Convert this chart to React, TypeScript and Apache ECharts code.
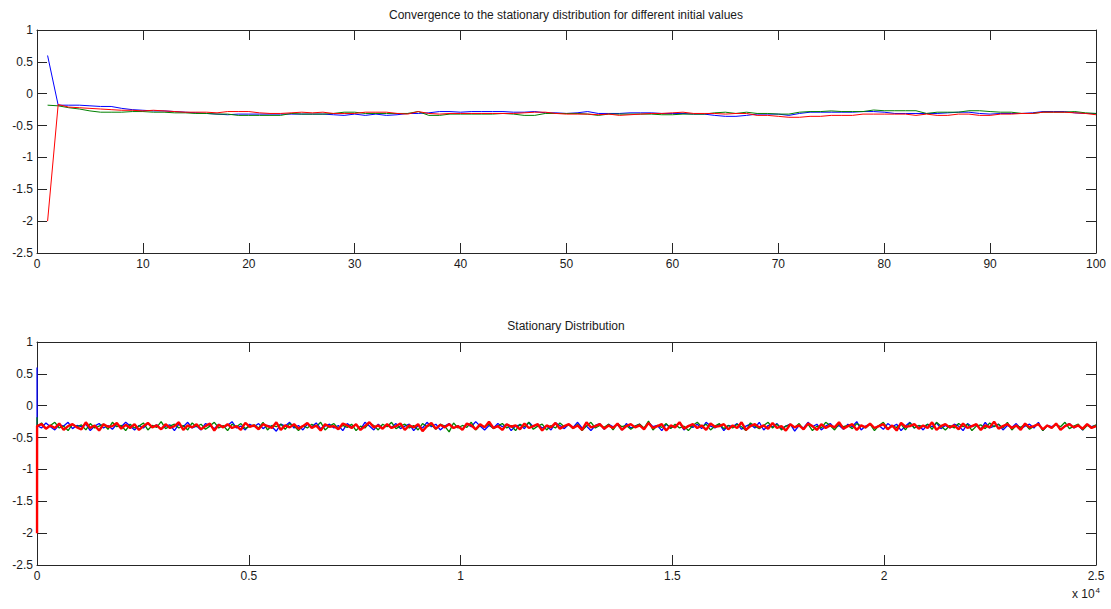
import React, { useEffect, useRef } from "react";
import * as echarts from "echarts";

// ---------- Top chart: first 100 iterations ----------
const topBlue = [
  0.6, -0.18, -0.18, -0.18, -0.19, -0.2, -0.2, -0.23, -0.25, -0.26,
  -0.27, -0.27, -0.28, -0.29, -0.3, -0.31, -0.32, -0.33, -0.32, -0.32,
  -0.32, -0.32, -0.32, -0.32, -0.32, -0.32, -0.32, -0.33, -0.34, -0.32,
  -0.34, -0.32, -0.34, -0.33, -0.31, -0.31, -0.3, -0.28, -0.28, -0.29,
  -0.28, -0.28, -0.28, -0.28, -0.29, -0.29, -0.28, -0.3, -0.3, -0.31,
  -0.3, -0.28, -0.31, -0.31, -0.31, -0.3, -0.3, -0.3, -0.31, -0.31,
  -0.31, -0.32, -0.32, -0.34, -0.355, -0.355, -0.34, -0.32, -0.32, -0.32,
  -0.34, -0.31, -0.29, -0.29, -0.29, -0.29, -0.29, -0.28, -0.28, -0.29,
  -0.31, -0.31, -0.31, -0.31, -0.31, -0.3, -0.29, -0.29, -0.31, -0.32,
  -0.31, -0.31, -0.31, -0.3, -0.28, -0.28, -0.28, -0.3, -0.31, -0.31,
];
const topGreen = [
  -0.18, -0.19, -0.22, -0.24, -0.27, -0.29, -0.29, -0.29, -0.28, -0.28,
  -0.29, -0.29, -0.3, -0.3, -0.31, -0.31, -0.32, -0.32, -0.34, -0.34,
  -0.34, -0.34, -0.34, -0.31, -0.32, -0.32, -0.32, -0.31, -0.29, -0.29,
  -0.31, -0.31, -0.31, -0.31, -0.31, -0.28, -0.34, -0.34, -0.32, -0.32,
  -0.32, -0.32, -0.32, -0.31, -0.32, -0.34, -0.34, -0.31, -0.31, -0.31,
  -0.31, -0.32, -0.34, -0.32, -0.32, -0.32, -0.32, -0.32, -0.33, -0.33,
  -0.32, -0.32, -0.32, -0.3, -0.29, -0.31, -0.29, -0.31, -0.31, -0.32,
  -0.32, -0.29, -0.28, -0.28, -0.27, -0.28, -0.28, -0.28, -0.256, -0.267,
  -0.267, -0.267, -0.267, -0.31, -0.29, -0.29, -0.29, -0.267, -0.267, -0.28,
  -0.29, -0.29, -0.31, -0.31, -0.29, -0.29, -0.29, -0.28, -0.3, -0.31,
];
const topRed = [
  -2.0, -0.17, -0.21, -0.22, -0.23, -0.24, -0.25, -0.26, -0.26, -0.27,
  -0.26, -0.27, -0.28, -0.29, -0.29, -0.29, -0.3, -0.28, -0.28, -0.28,
  -0.3, -0.31, -0.31, -0.3, -0.29, -0.3, -0.29, -0.31, -0.31, -0.31,
  -0.29, -0.29, -0.29, -0.31, -0.32, -0.28, -0.31, -0.32, -0.31, -0.31,
  -0.31, -0.31, -0.31, -0.31, -0.31, -0.3, -0.29, -0.29, -0.31, -0.32,
  -0.32, -0.32, -0.33, -0.32, -0.34, -0.33, -0.32, -0.31, -0.31, -0.3,
  -0.29, -0.31, -0.31, -0.31, -0.32, -0.31, -0.31, -0.34, -0.34, -0.355,
  -0.37, -0.37, -0.355, -0.355, -0.34, -0.34, -0.34, -0.32, -0.32, -0.32,
  -0.32, -0.32, -0.34, -0.32, -0.34, -0.34, -0.32, -0.32, -0.34, -0.34,
  -0.32, -0.32, -0.31, -0.31, -0.29, -0.29, -0.29, -0.3, -0.31, -0.33,
];

// ---------- Bottom chart: 25000 iterations (sampled) ----------
const totalIterations = 25000;
const bottomBlue = [
  0.6,
  -.31,-.35,-.27,-.33,-.38,-.30,-.32,-.26,-.36,-.31,
  -.33,-.29,-.39,-.32,-.28,-.35,-.31,-.37,-.29,-.33,
  -.26,-.32,-.38,-.31,-.35,-.28,-.33,-.30,-.37,-.32,
  -.30,-.39,-.29,-.33,-.26,-.35,-.32,-.38,-.28,-.31,
  -.36,-.29,-.34,-.31,-.25,-.35,-.32,-.38,-.29,-.33,
  -.28,-.36,-.31,-.33,-.40,-.29,-.32,-.26,-.35,-.31,
  -.38,-.29,-.33,-.27,-.36,-.32,-.29,-.35,-.31,-.39,
  -.28,-.33,-.30,-.37,-.26,-.32,-.38,-.29,-.35,-.31,
  -.34,-.28,-.36,-.32,-.29,-.39,-.31,-.35,-.26,-.33,
  -.29,-.38,-.32,-.28,-.35,-.31,-.37,-.29,-.33,-.25,
  -.32,-.38,-.31,-.35,-.28,-.33,-.29,-.39,-.32,-.30,
  -.36,-.26,-.33,-.29,-.35,-.32,-.38,-.27,-.31,-.36,
  -.29,-.34,-.26,-.35,-.32,-.39,-.31,-.28,-.37,-.29,
  -.33,-.30,-.38,-.28,-.35,-.32,-.29,-.36,-.26,-.33,
  -.31,-.39,-.29,-.35,-.32,-.27,-.38,-.31,-.34,-.29,
  -.36,-.26,-.32,-.35,-.29,-.39,-.31,-.33,-.28,-.37,
  -.32,-.29,-.35,-.26,-.38,-.31,-.33,-.28,-.36,-.32,
  -.29,-.40,-.31,-.35,-.26,-.33,-.29,-.38,-.32,-.28,
  -.35,-.31,-.37,-.29,-.33,-.25,-.38,-.32,-.29,-.35,
  -.31,-.37,-.28,-.33,-.29,-.39,-.32,-.26,-.35,-.31,
  -.38,-.29,-.33,-.27,-.36,-.31,-.35,-.29,-.32,-.39,
  -.28,-.33,-.30,-.37,-.26,-.35,-.32,-.29,-.38,-.31,
  -.34,-.28,-.36,-.32,-.29,-.35,-.26,-.39,-.31,-.33,
  -.29,-.37,-.32,-.28,-.35,-.31,-.38,-.29,-.33,-.31,
];
const bottomGreen = [
  -0.18,
  -.33,-.27,-.36,-.31,-.26,-.35,-.32,-.39,-.29,-.33,
  -.30,-.38,-.28,-.35,-.32,-.29,-.37,-.26,-.33,-.31,
  -.39,-.29,-.35,-.32,-.27,-.38,-.31,-.34,-.25,-.36,
  -.32,-.29,-.35,-.31,-.38,-.27,-.33,-.29,-.37,-.32,
  -.26,-.35,-.31,-.39,-.29,-.33,-.28,-.36,-.32,-.30,
  -.35,-.26,-.38,-.31,-.33,-.29,-.37,-.28,-.32,-.39,
  -.31,-.35,-.29,-.33,-.26,-.38,-.32,-.28,-.36,-.31,
  -.34,-.29,-.39,-.32,-.35,-.27,-.31,-.38,-.29,-.33,
  -.26,-.36,-.32,-.29,-.35,-.31,-.38,-.28,-.33,-.30,
  -.37,-.29,-.32,-.41,-.27,-.35,-.31,-.34,-.26,-.38,
  -.31,-.33,-.29,-.36,-.32,-.28,-.35,-.31,-.39,-.29,
  -.33,-.26,-.37,-.32,-.29,-.38,-.31,-.35,-.27,-.33,
  -.30,-.36,-.29,-.39,-.32,-.26,-.35,-.31,-.34,-.29,
  -.38,-.28,-.33,-.31,-.37,-.32,-.29,-.35,-.24,-.38,
  -.31,-.34,-.28,-.36,-.29,-.35,-.32,-.39,-.31,-.26,
  -.33,-.29,-.38,-.32,-.28,-.36,-.31,-.35,-.29,-.33,
  -.39,-.27,-.32,-.36,-.31,-.26,-.35,-.29,-.38,-.32,
  -.30,-.34,-.28,-.37,-.29,-.39,-.32,-.35,-.26,-.31,
  -.38,-.29,-.33,-.31,-.36,-.28,-.32,-.35,-.29,-.39,
  -.31,-.26,-.36,-.32,-.34,-.29,-.38,-.27,-.35,-.31,
  -.33,-.29,-.37,-.26,-.32,-.38,-.31,-.35,-.28,-.33,
  -.29,-.39,-.32,-.30,-.36,-.27,-.33,-.29,-.35,-.26,
  -.38,-.31,-.34,-.29,-.37,-.32,-.28,-.39,-.31,-.35,
  -.29,-.33,-.26,-.36,-.32,-.29,-.38,-.31,-.34,-.30,
];
const bottomRed = [
  -2.0,
  -.32,-.29,-.36,-.31,-.35,-.28,-.38,-.32,-.29,-.34,
  -.37,-.26,-.35,-.31,-.39,-.29,-.33,-.32,-.27,-.36,
  -.30,-.35,-.29,-.38,-.32,-.27,-.34,-.31,-.37,-.29,
  -.35,-.32,-.26,-.38,-.31,-.34,-.29,-.37,-.32,-.28,
  -.39,-.30,-.34,-.29,-.35,-.32,-.38,-.27,-.33,-.31,
  -.37,-.29,-.32,-.35,-.26,-.38,-.31,-.34,-.29,-.36,
  -.32,-.27,-.35,-.31,-.39,-.29,-.33,-.32,-.37,-.28,
  -.31,-.35,-.29,-.38,-.32,-.26,-.34,-.31,-.36,-.29,
  -.35,-.32,-.28,-.38,-.31,-.34,-.29,-.40,-.32,-.27,
  -.36,-.30,-.34,-.29,-.35,-.32,-.38,-.28,-.31,-.37,
  -.29,-.34,-.25,-.35,-.32,-.38,-.29,-.33,-.31,-.37,
  -.28,-.35,-.32,-.29,-.39,-.31,-.34,-.27,-.36,-.32,
  -.29,-.35,-.31,-.38,-.26,-.34,-.32,-.29,-.36,-.31,
  -.35,-.28,-.38,-.32,-.29,-.34,-.31,-.37,-.27,-.35,
  -.32,-.29,-.39,-.31,-.34,-.26,-.36,-.32,-.29,-.35,
  -.31,-.38,-.28,-.33,-.32,-.29,-.37,-.31,-.35,-.26,
  -.38,-.32,-.29,-.34,-.31,-.36,-.27,-.35,-.32,-.39,
  -.29,-.34,-.31,-.37,-.28,-.32,-.38,-.29,-.35,-.31,
  -.34,-.26,-.36,-.32,-.29,-.38,-.31,-.34,-.28,-.35,
  -.32,-.29,-.37,-.31,-.39,-.27,-.33,-.32,-.29,-.36,
  -.31,-.35,-.26,-.38,-.32,-.29,-.34,-.31,-.37,-.28,
  -.35,-.32,-.29,-.38,-.31,-.34,-.25,-.36,-.32,-.29,
  -.35,-.31,-.38,-.28,-.34,-.32,-.29,-.37,-.31,-.35,
  -.28,-.38,-.32,-.29,-.34,-.31,-.36,-.29,-.35,-.32,
];

const topTitle = "Convergence to the stationary distribution for different initial values";
const bottomTitle = "Stationary Distribution";

const FONT = "'Liberation Sans', Arial, sans-serif";
const AXIS = "#262626";
const BLUE = "#0000ff";
const GREEN = "#008000";
const RED = "#ff0000";

function topPairs(arr: number[]) {
  return arr.map((v, i) => [i + 1, v]);
}
// first sample at iteration 1, second at 2, remaining samples spread up to 25000
function bottomPairs(arr: number[]) {
  const n = arr.length;
  return arr.map((v, i) => [i === 0 ? 1 : 2 + ((i - 1) * (totalIterations - 2)) / (n - 2), v]);
}

function makeX(grid: number, max: number, interval: number, top: boolean, fmt?: (v: number) => string) {
  return {
    type: "value",
    gridIndex: grid,
    position: top ? "top" : "bottom",
    min: 0,
    max,
    interval,
    splitLine: { show: false },
    axisLine: { show: true, onZero: false, lineStyle: { color: AXIS, width: 1 } },
    axisTick: { show: true, inside: true, length: 10, lineStyle: { color: AXIS } },
    axisLabel: {
      show: !top,
      color: "#1a1a1a",
      fontFamily: FONT,
      fontSize: 12,
      margin: 5,
      formatter: fmt,
    },
  };
}
function makeY(grid: number, right: boolean) {
  return {
    type: "value",
    gridIndex: grid,
    position: right ? "right" : "left",
    min: -2.5,
    max: 1,
    interval: 0.5,
    splitLine: { show: false },
    axisLine: { show: true, onZero: false, lineStyle: { color: AXIS, width: 1 } },
    axisTick: { show: true, inside: true, length: 10, lineStyle: { color: AXIS } },
    axisLabel: {
      show: !right,
      color: "#1a1a1a",
      fontFamily: FONT,
      fontSize: 12,
      margin: 4,
    },
  };
}

function line(name: string, data: number[][], color: string, xi: number, yi: number, width: number) {
  return {
    name,
    type: "line",
    xAxisIndex: xi,
    yAxisIndex: yi,
    data,
    showSymbol: false,
    symbol: "none",
    lineStyle: { color, width },
    itemStyle: { color },
    z: 2,
  };
}

export default function App() {
  const ref = useRef<HTMLDivElement>(null);
  useEffect(() => {
    if (!ref.current) return;
    const chart = echarts.init(ref.current, undefined, { renderer: "svg" });
    chart.setOption({
      animation: false,
      backgroundColor: "#ffffff",
      grid: [
        { left: 37, top: 30, width: 1059, height: 223 },
        { left: 37, top: 342, width: 1059, height: 223 },
      ],
      xAxis: [
        makeX(0, 100, 10, false),
        makeX(0, 100, 10, true),
        makeX(1, 25000, 5000, false, (v: number) => String(v / 10000)),
        makeX(1, 25000, 5000, true),
      ],
      yAxis: [makeY(0, false), makeY(0, true), makeY(1, false), makeY(1, true)],
      series: [
        line("blue", topPairs(topBlue), BLUE, 0, 0, 1),
        line("green", topPairs(topGreen), GREEN, 0, 0, 1),
        line("red", topPairs(topRed), RED, 0, 0, 1),
        line("blue2", bottomPairs(bottomBlue), BLUE, 2, 2, 1.3),
        line("green2", bottomPairs(bottomGreen), GREEN, 2, 2, 1.3),
        line("red2", bottomPairs(bottomRed), RED, 2, 2, 2.4),
      ],
      graphic: [
        {
          type: "text",
          x: 566,
          y: 15,
          style: {
            text: topTitle,
            fontFamily: FONT,
            fontSize: 12,
            fill: "#1a1a1a",
            textAlign: "center",
            textVerticalAlign: "middle",
          },
        },
        {
          type: "text",
          x: 566,
          y: 326,
          style: {
            text: bottomTitle,
            fontFamily: FONT,
            fontSize: 12,
            fill: "#1a1a1a",
            textAlign: "center",
            textVerticalAlign: "middle",
          },
        },
        {
          type: "text",
          x: 1100,
          y: 594,
          style: {
            text: "{b|x 10}{s|4}",
            textAlign: "right",
            textVerticalAlign: "middle",
            rich: {
              b: { fontFamily: FONT, fontSize: 12, fill: "#1a1a1a", color: "#1a1a1a" },
              s: { fontFamily: FONT, fontSize: 8, fill: "#1a1a1a", color: "#1a1a1a", verticalAlign: "top", padding: [0, 0, 8, 1] },
            },
          },
        },
      ],
    });
    return () => chart.dispose();
  }, []);
  return (
    <div
      ref={ref}
      style={{ position: "fixed", left: 0, top: 0, width: 1111, height: 609, background: "#fff" }}
    />
  );
}
